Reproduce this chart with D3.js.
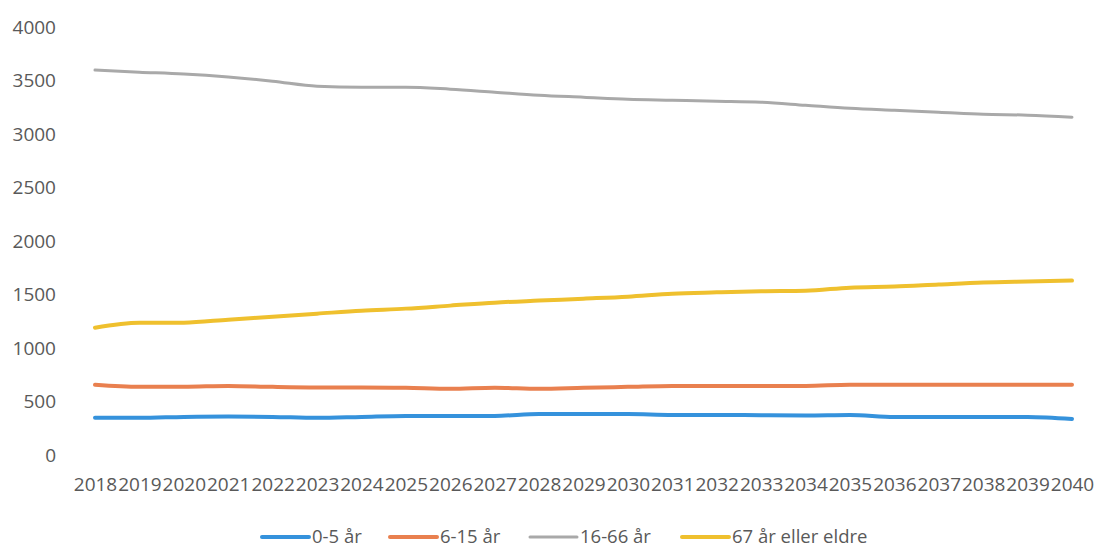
<!DOCTYPE html>
<html>
<head>
<meta charset="utf-8">
<script src="https://cdn.jsdelivr.net/npm/d3@7/dist/d3.min.js"></script>
<style>
  html, body { margin: 0; padding: 0; background: #ffffff; }
  svg { display: block; }
  text { font-family: "Open Sans", "Noto Sans", sans-serif; }
</style>
</head>
<body>
<svg id="chart" width="1102" height="548"></svg>
<script>
// Befolkningsframskriving etter aldersgruppe, 2018–2040
const years = d3.range(2018, 2041);
const yTicks = [0, 500, 1000, 1500, 2000, 2500, 3000, 3500, 4000];

const age0to5 = [347, 347, 356, 360, 356, 347, 356, 365, 365, 365, 384, 384,
                 384, 375, 375, 372, 370, 375, 356, 356, 356, 356, 337];
const age6to15 = [656, 637, 637, 646, 637, 632, 632, 628, 618, 628, 618, 628,
                  637, 646, 646, 646, 646, 656, 656, 656, 656, 656, 656];
const age16to66 = [3597, 3578, 3560, 3532, 3494, 3447, 3438, 3438, 3419, 3391, 3363, 3344,
                   3325, 3316, 3307, 3297, 3269, 3241, 3222, 3204, 3185, 3176, 3157];
const age67plus = [1190, 1237, 1237, 1265, 1293, 1321, 1349, 1368, 1396, 1424, 1443, 1461,
                   1480, 1508, 1520, 1530, 1535, 1564, 1574, 1593, 1611, 1621, 1630];

const seriesNames = ["0-5 år", "6-15 år", "16-66 år", "67 år eller eldre"];
const seriesValues = [age0to5, age6to15, age16to66, age67plus];
const seriesColors = ["#3592dc", "#e9804f", "#a9a9a9", "#efc02e"];
const seriesWidths = [4, 4, 3, 4];

const svg = d3.select("#chart");

const x = d3.scalePoint().domain(years).range([95, 1072]);
const y = d3.scaleLinear().domain([0, 4000]).range([455, 27]);

// Y axis: labels only
const yAxis = svg.append("g")
  .attr("transform", "translate(56,0)")
  .call(d3.axisLeft(y).tickValues(yTicks).tickFormat(d3.format("d")).tickSize(0).tickPadding(0));
yAxis.select(".domain").remove();
yAxis.selectAll("text")
  .attr("fill", "#595959")
  .style("font-size", "19px");

// X axis: year labels only
const xAxis = svg.append("g")
  .attr("transform", "translate(0,477)")
  .call(d3.axisBottom(x).tickSize(0).tickPadding(0));
xAxis.select(".domain").remove();
xAxis.selectAll("text")
  .attr("fill", "#595959")
  .attr("dy", "0.71em")
  .style("font-size", "19px");

// Series lines
const line = d3.line()
  .x((d, i) => x(years[i]))
  .y(d => y(d))
  .curve(d3.curveMonotoneX);

svg.append("g")
  .selectAll("path")
  .data(seriesValues)
  .join("path")
  .attr("fill", "none")
  .attr("stroke", (d, i) => seriesColors[i])
  .attr("stroke-width", (d, i) => seriesWidths[i])
  .attr("stroke-linecap", "round")
  .attr("stroke-linejoin", "round")
  .attr("d", line);

// Legend
const legendX = [262, 390, 530, 682];
const legend = svg.append("g").attr("transform", "translate(0,537)");
const items = legend.selectAll("g")
  .data(seriesNames)
  .join("g")
  .attr("transform", (d, i) => `translate(${legendX[i]},0)`);
items.append("line")
  .attr("x1", 0).attr("x2", 47)
  .attr("y1", 0).attr("y2", 0)
  .attr("stroke", (d, i) => seriesColors[i])
  .attr("stroke-width", (d, i) => seriesWidths[i])
  .attr("stroke-linecap", "round");
items.append("text")
  .attr("x", 50)
  .attr("y", 0)
  .attr("dy", "0.35em")
  .attr("fill", "#595959")
  .style("font-size", "18.5px")
  .text(d => d);
</script>
</body>
</html>
